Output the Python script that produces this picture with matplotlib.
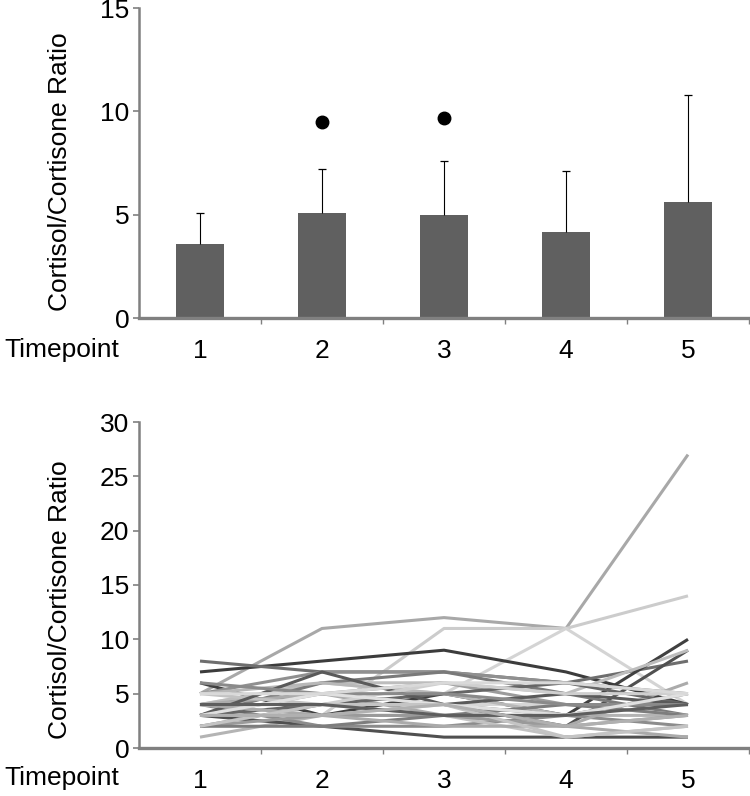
import numpy as np
import matplotlib
matplotlib.use("Agg")
import matplotlib.pyplot as plt

plt.rcParams['font.family'] = ['Liberation Sans', 'DejaVu Sans']

timepoints = [1, 2, 3, 4, 5]
tick_labels = ["1", "2", "3", "4", "5"]
bar_means = [3.6, 5.1, 5.0, 4.15, 5.6]
bar_sd = [1.5, 2.1, 2.6, 2.95, 5.2]
sig_x = [2, 3]
sig_y = [9.5, 9.7]

# individual subject trajectories (bottom panel)
subjects = [
    [5, 11, 12, 11, 27],
    [3, 3, 11, 11, 14],
    [4, 6, 5, 11, 4],
    [7, 8, 9, 7, 4],
    [8, 7, 7, 6, 8],
    [6, 3, 5, 3, 10],
    [4, 5, 4, 2, 9],
    [1, 3, 3, 3, 3],
    [3, 2, 1, 1, 1],
    [4, 2, 2, 3, 2],
    [5, 7, 7, 6, 5],
    [4, 6, 6, 5, 9],
    [3, 6, 7, 5, 3],
    [4, 5, 3, 2, 6],
    [2, 4, 4, 3, 5],
    [3, 5, 6, 4, 4],
    [5, 4, 3, 1, 2],
    [3, 4, 5, 6, 4],
    [4, 3, 4, 4, 3],
    [2, 3, 3, 2, 3],
    [5, 6, 5, 3, 5],
    [3, 7, 4, 5, 4],
    [4, 4, 6, 5, 5],
    [2, 2, 3, 4, 3],
    [6, 5, 5, 4, 4],
    [4, 3, 2, 2, 1],
    [3, 5, 4, 3, 5],
    [2, 4, 4, 1, 2],
    [4, 4, 3, 3, 4],
    [3, 3, 4, 2, 3],
    [5, 5, 6, 6, 5],
]
subject_colors = [
    "#a8a8a8", "#cccccc", "#d4d4d4", "#3c3c3c", "#6e6e6e", "#404040",
    "#505050", "#b4b4b4", "#505050", "#8c8c8c", "#909090", "#bdbdbd",
    "#7a7a7a", "#ababab", "#888888", "#9c9c9c", "#c2c2c2", "#666666",
    "#d6d6d6", "#9a9a9a", "#b8b8b8", "#5a5a5a", "#cfcfcf", "#7d7d7d",
    "#8a8a8a", "#aaaaaa", "#e0e0e0", "#c4c4c4", "#5e5e5e", "#b0b0b0",
    "#d9d9d9",
]

W, H = 750, 796
fig = plt.figure(figsize=(W / 100, H / 100), dpi=100)

FS = 19
spine_col = "#808080"


def style_axes(ax, ymax, ystep):
    ax.set_xlim(0.5, 5.5)
    ax.set_ylim(0, ymax)
    for s in ["top", "right"]:
        ax.spines[s].set_visible(False)
    ax.spines["left"].set_color(spine_col)
    ax.spines["left"].set_linewidth(1.8)
    ax.spines["bottom"].set_color(spine_col)
    ax.spines["bottom"].set_linewidth(2.4)
    ax.set_yticks(np.arange(0, ymax + 0.1, ystep))
    ax.tick_params(axis="y", labelsize=FS, length=4, width=1.2, color=spine_col, pad=3)
    ax.set_xticks(timepoints)
    ax.set_xticklabels(tick_labels)
    ax.tick_params(axis="x", which="major", labelsize=FS, length=0, pad=15)
    ax.set_xticks([1.5, 2.5, 3.5, 4.5, 5.5], minor=True)
    ax.tick_params(axis="x", which="minor", length=4, width=1.0, color=spine_col)


# Top panel
ax1 = fig.add_axes([139 / W, 1 - 318 / H, 610 / W, 310 / H])
ax1.bar(timepoints, bar_means, width=0.39, color="#606060", zorder=2)
uppers = [m + s for m, s in zip(bar_means, bar_sd)]
ax1.vlines(timepoints, bar_means, uppers, color="black", lw=0.8, zorder=3)
ax1.plot(timepoints, uppers, linestyle="none", marker="_", markersize=6,
         color="black", markeredgewidth=0.9, zorder=3)
ax1.plot(sig_x, sig_y, linestyle="none", marker="o", markersize=9, color="black")
style_axes(ax1, 15, 5)

# Bottom panel
ax2 = fig.add_axes([139 / W, 1 - 748 / H, 610 / W, 326 / H])
for vals, c in zip(subjects, subject_colors):
    ax2.plot(timepoints, vals, color=c, lw=2.2, solid_capstyle="butt")
style_axes(ax2, 30, 5)

# Labels
fig.text(60 / W, 1 - 172 / H, "Cortisol/Cortisone Ratio", rotation=90,
         ha="center", va="center", fontsize=FS)
fig.text(60 / W, 1 - 600 / H, "Cortisol/Cortisone Ratio", rotation=90,
         ha="center", va="center", fontsize=FS)
fig.text(4 / W, 1 - 350 / H, "Timepoint", ha="left", va="center", fontsize=FS)
fig.text(4 / W, 1 - 778 / H, "Timepoint", ha="left", va="center", fontsize=FS)

fig.savefig("out.png", dpi=100)
